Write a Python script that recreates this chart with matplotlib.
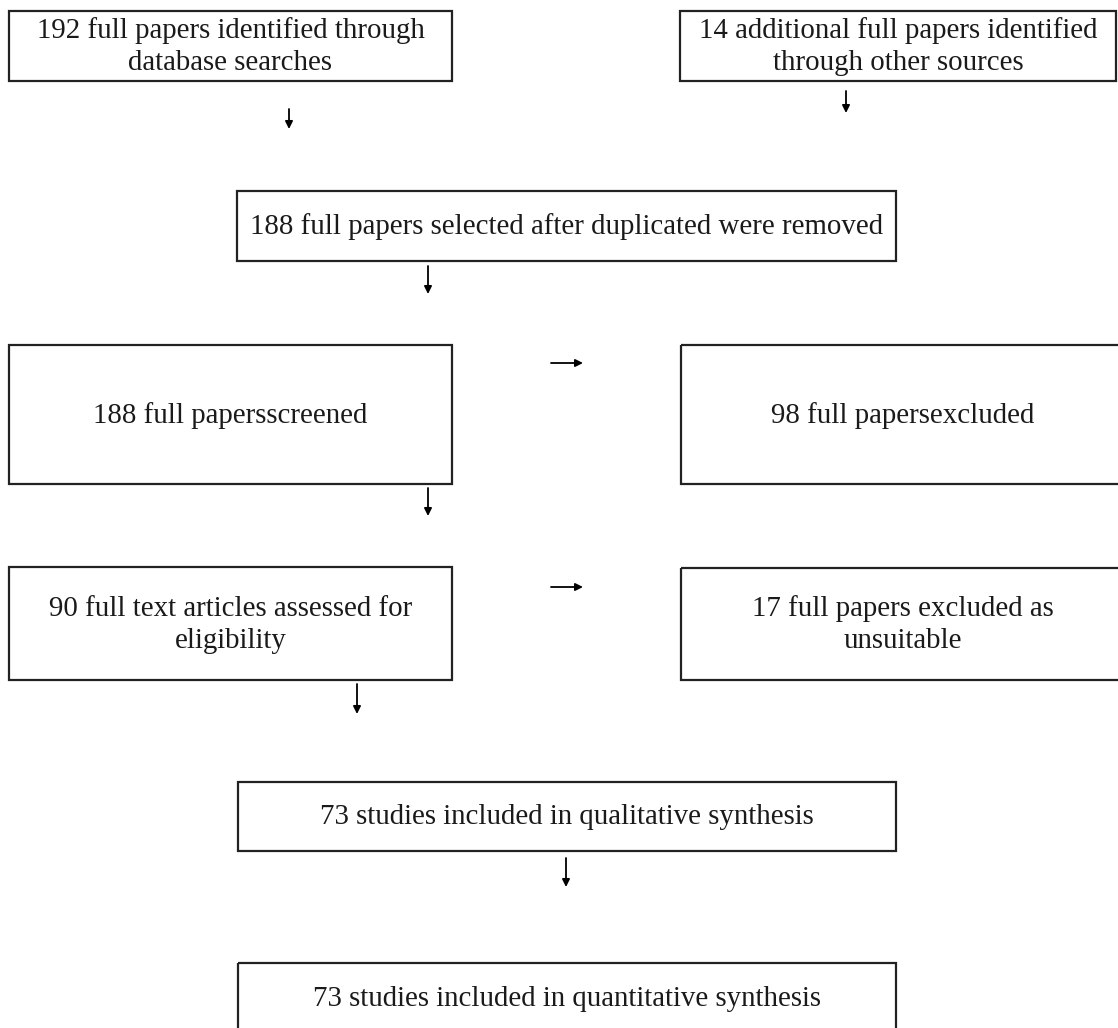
import matplotlib
matplotlib.use("Agg")
import matplotlib.pyplot as plt
from matplotlib.patches import Rectangle

# ---- content ----
box_labels = [
    "192 full papers identified through\ndatabase searches",
    "14 additional full papers identified\nthrough other sources",
    "188 full papers selected after duplicated were removed",
    "188 full papersscreened",
    "98 full papersexcluded",
    "90 full text articles assessed for\neligibility",
    "17 full papers excluded as\nunsuitable",
    "73 studies included in qualitative synthesis",
    "73 studies included in quantitative synthesis",
]

# ---- layout (pixel coordinates: left, top, right, bottom) ----
box_layout = [
    (9, 11, 452, 81),
    (680, 11, 1116, 81),
    (237, 191, 896, 261),
    (9, 345, 452, 484),
    (681, 345, 1125, 484),
    (9, 567, 452, 680),
    (681, 568, 1125, 680),
    (238, 782, 896, 851),
    (238, 963, 896, 1033),
]

arrow_layout = [
    ((289, 109), (289, 129)),
    ((846, 91), (846, 113)),
    ((428, 266), (428, 294)),
    ((551, 363), (583, 363)),
    ((428, 488), (428, 516)),
    ((551, 587), (583, 587)),
    ((357, 684), (357, 714)),
    ((566, 858), (566, 887)),
]

W, H = 1118, 1028
fig = plt.figure(figsize=(W / 100, H / 100), dpi=100)
ax = fig.add_axes([0, 0, 1, 1])
ax.set_xlim(0, W)
ax.set_ylim(H, 0)
ax.axis("off")

for label, (l, t, r, b) in zip(box_labels, box_layout):
    ax.add_patch(Rectangle((l, t), r - l, b - t, fill=False,
                           edgecolor="#222222", linewidth=1.6))
    ax.text((l + r) / 2, (t + b) / 2 + 1, label, ha="center", va="center",
            fontsize=20.8, family=["Liberation Serif", "DejaVu Serif"],
            color="#1a1a1a", linespacing=1.3)

for (x0, y0), (x1, y1) in arrow_layout:
    ax.annotate("", xy=(x1, y1), xytext=(x0, y0),
                arrowprops=dict(arrowstyle="-|>", lw=1.3, color="black",
                                mutation_scale=11, shrinkA=0, shrinkB=0))

fig.savefig("out.png", dpi=100)
